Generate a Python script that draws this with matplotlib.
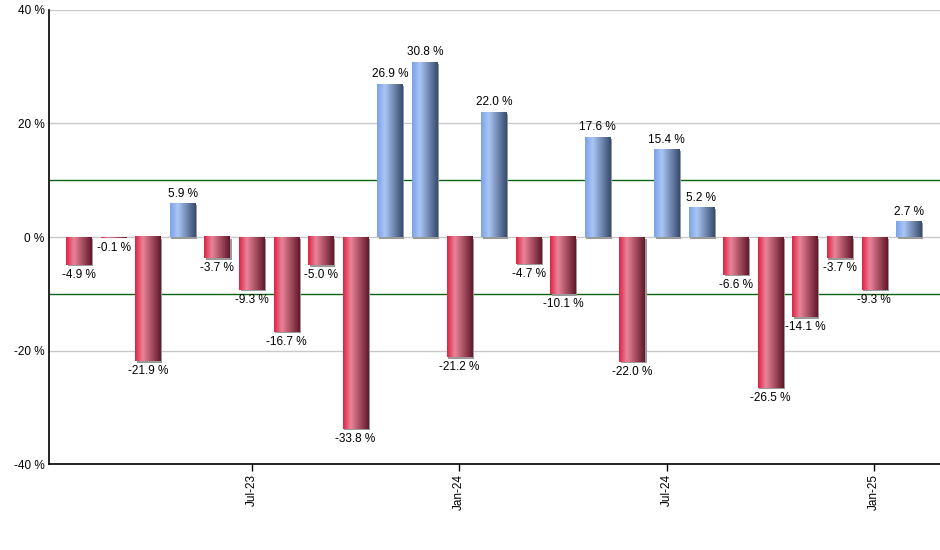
import matplotlib

matplotlib.use("Agg")
import matplotlib.pyplot as plt
import numpy as np
from matplotlib.colors import LinearSegmentedColormap
from matplotlib.patches import Rectangle

# monthly returns, Feb-23 .. Feb-25
months = [
    "Feb-23", "Mar-23", "Apr-23", "May-23", "Jun-23", "Jul-23", "Aug-23", "Sep-23",
    "Oct-23", "Nov-23", "Dec-23", "Jan-24", "Feb-24", "Mar-24", "Apr-24", "May-24",
    "Jun-24", "Jul-24", "Aug-24", "Sep-24", "Oct-24", "Nov-24", "Dec-24", "Jan-25",
    "Feb-25",
]
returns = [
    -4.9, -0.1, -21.9, 5.9, -3.7, -9.3, -16.7, -5.0, -33.8, 26.9, 30.8, -21.2, 22.0,
    -4.7, -10.1, 17.6, -22.0, 15.4, 5.2, -6.6, -26.5, -14.1, -3.7, -9.3, 2.7,
]
tick_months = ["Jul-23", "Jan-24", "Jul-24", "Jan-25"]
y_ticks = [-40, -20, 0, 20, 40]
band_levels = [-10, 10]

BLUE = LinearSegmentedColormap.from_list(
    "blue_bar", [(0.0, "#7aa2ea"), (0.3, "#abc6f4"), (1.0, "#384c70")]
)
RED = LinearSegmentedColormap.from_list(
    "red_bar", [(0.0, "#dc2446"), (0.3, "#ea8499"), (1.0, "#62182a")]
)
GRAD = np.linspace(0, 1, 64).reshape(1, -1)


def draw_bar(ax, x, val, width, px_x, px_y):
    x0, x1 = x - width / 2, x + width / 2
    y0, y1 = min(0, val), max(0, val)
    # small grey drop shadow
    ax.add_patch(Rectangle((x0 + 1.5 * px_x, y0 - 1.5 * px_y), width, y1 - y0,
                           facecolor="#9a9a9a", edgecolor="none", zorder=2))
    cmap = BLUE if val >= 0 else RED
    ax.imshow(GRAD, cmap=cmap, extent=(x0, x1, y0, y1), aspect="auto",
              interpolation="bicubic", zorder=3)


def main():
    plt.rcParams["font.family"] = ["Liberation Sans", "DejaVu Sans"]
    fig = plt.figure(figsize=(9.4, 5.5), dpi=100)
    ax = fig.add_axes([0.052, 0.156, 0.948, 0.826])

    n = len(returns)
    xs = np.arange(n)
    xmin, xmax = -0.87, 24.9
    ax.set_xlim(xmin, xmax)
    ax.set_ylim(-40, 40)
    px_x = (xmax - xmin) / (0.948 * 940)
    px_y = 80 / (0.826 * 550)

    for yv in y_ticks:
        ax.axhline(yv, color="#c8c8c8", lw=1.0, zorder=1)
    for yv in band_levels:
        ax.axhline(yv, color="#0a6414", lw=1.0, zorder=1)

    width = 0.74
    for x, v in zip(xs, returns):
        draw_bar(ax, x, v, width, px_x, px_y)
        off = 4 * px_y
        if v >= 0:
            ax.text(x, v + off, f"{v:.1f} %", ha="center", va="bottom", fontsize=8.5, zorder=4)
        else:
            ax.text(x, v - off, f"{v:.1f} %", ha="center", va="top", fontsize=8.5, zorder=4)

    ax.set_xlim(xmin, xmax)
    ax.set_ylim(-40, 40)
    ax.set_yticks(y_ticks)
    ax.set_yticklabels([f"{t} %" for t in y_ticks], fontsize=8.5)
    ax.tick_params(axis="y", length=0, pad=3)
    ax.set_xticks([months.index(m) for m in tick_months])
    ax.set_xticklabels(tick_months, rotation=90, fontsize=8.5)
    ax.tick_params(axis="x", length=5, width=1, direction="out", pad=2)

    for side in ["top", "right"]:
        ax.spines[side].set_visible(False)
    ax.spines["left"].set_linewidth(1.2)
    ax.spines["bottom"].set_linewidth(1.2)

    fig.savefig("out.png", dpi=100, facecolor="white")
    plt.close(fig)


if __name__ == "__main__":
    main()
